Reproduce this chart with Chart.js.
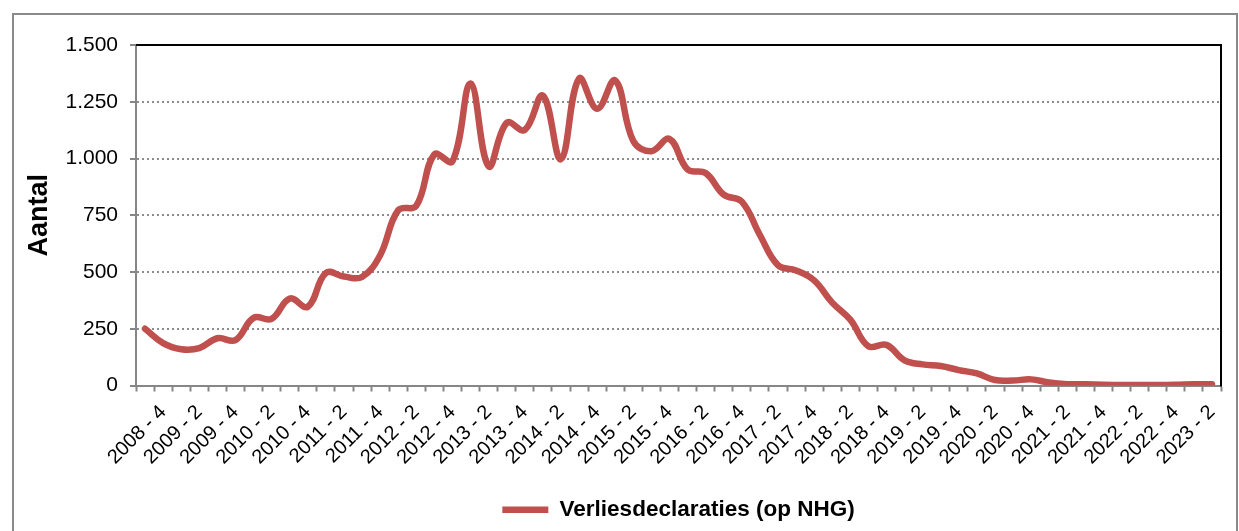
<!DOCTYPE html>
<html>
<head>
<meta charset="utf-8">
<script src="https://cdn.jsdelivr.net/npm/chart.js@4"></script>
<style>
    body { margin: 0; background: #fff; }
    #frame { position: absolute; left: 12px; top: 13px; width: 1222px; height: 540px; border: 2px solid #8a8a8a; }
    #chart { position: absolute; left: 0; top: 0; }
</style>
</head>
<body>
<div id="frame"></div>
<canvas id="chart" width="1239" height="531"></canvas>
<script>
// quarters, 2008-3 .. 2023-2
const quarters = [
    '2008 - 3', '2008 - 4',
    '2009 - 1', '2009 - 2', '2009 - 3', '2009 - 4',
    '2010 - 1', '2010 - 2', '2010 - 3', '2010 - 4',
    '2011 - 1', '2011 - 2', '2011 - 3', '2011 - 4',
    '2012 - 1', '2012 - 2', '2012 - 3', '2012 - 4',
    '2013 - 1', '2013 - 2', '2013 - 3', '2013 - 4',
    '2014 - 1', '2014 - 2', '2014 - 3', '2014 - 4',
    '2015 - 1', '2015 - 2', '2015 - 3', '2015 - 4',
    '2016 - 1', '2016 - 2', '2016 - 3', '2016 - 4',
    '2017 - 1', '2017 - 2', '2017 - 3', '2017 - 4',
    '2018 - 1', '2018 - 2', '2018 - 3', '2018 - 4',
    '2019 - 1', '2019 - 2', '2019 - 3', '2019 - 4',
    '2020 - 1', '2020 - 2', '2020 - 3', '2020 - 4',
    '2021 - 1', '2021 - 2', '2021 - 3', '2021 - 4',
    '2022 - 1', '2022 - 2', '2022 - 3', '2022 - 4',
    '2023 - 1', '2023 - 2'
];

const verliesdeclaraties = [
    250, 187,
    160, 165, 208, 200,
    298, 294, 383, 347,
    496, 480, 478, 574,
    772, 792, 1018, 988,
    1330, 966, 1157, 1126,
    1277, 997, 1352, 1219,
    1344, 1077, 1032, 1086,
    952, 936, 841, 810,
    663, 530, 507, 463,
    365, 290, 173, 179,
    111, 93, 86, 68,
    53, 24, 22, 27,
    13, 6, 5, 3,
    2, 2, 2, 3,
    5, 5
];

const yTicks = [0, 250, 500, 750, 1000, 1250, 1500];

const seriesName = 'Verliesdeclaraties (op NHG)';
const axisTitle = 'Aantal';

const FONT = "'Liberation Sans', Arial, sans-serif";
const GREY = '#868686';

function dutchNumber(v) {
    return String(v).replace(/\B(?=(\d{3})+(?!\d))/g, '.');
}

// black top and right edge of the plot area
const plotFrame = {
    id: 'plotFrame',
    afterDatasetsDraw(chart) {
        const {ctx, chartArea: a} = chart;
        ctx.save();
        ctx.strokeStyle = '#000';
        ctx.lineWidth = 2;
        ctx.beginPath();
        ctx.moveTo(a.left, a.top);
        ctx.lineTo(a.right, a.top);
        ctx.lineTo(a.right, a.bottom + 1);
        ctx.stroke();
        ctx.restore();
    }
};

const ctx = document.getElementById('chart').getContext('2d');
const chart = new Chart(ctx, {
    type: 'line',
    data: {
        labels: quarters,
        datasets: [{
            label: seriesName,
            data: verliesdeclaraties,
            borderColor: '#C0504D',
            backgroundColor: '#C0504D',
            borderWidth: 6.5,
            borderCapStyle: 'round',
            borderJoinStyle: 'round',
            pointRadius: 0,
            pointStyle: 'line',
            tension: 0.4,
            fill: false
        }]
    },
    options: {
        responsive: false,
        animation: false,
        devicePixelRatio: 1,
        layout: { padding: { top: 45, right: 18, left: 0, bottom: 0 } },
        plugins: {
            tooltip: { enabled: false },
            legend: {
                position: 'bottom',
                fullSize: false,
                labels: {
                    usePointStyle: true,
                    pointStyleWidth: 46,
                    padding: 12,
                    color: '#000',
                    font: { family: FONT, size: 22.5, weight: 'bold' }
                }
            }
        },
        scales: {
            x: {
                offset: true,
                afterFit: function (scale) { scale.height = 101; },
                grid: {
                    offset: true,
                    drawOnChartArea: false,
                    drawTicks: true,
                    tickLength: 6,
                    tickWidth: 2,
                    tickColor: GREY
                },
                border: { color: GREY, width: 2 },
                ticks: {
                    autoSkip: false,
                    maxRotation: 45,
                    minRotation: 45,
                    padding: 9,
                    color: '#000',
                    font: { family: FONT, size: 20 },
                    callback: function (value, index) {
                        return index % 2 === 1 ? this.getLabelForValue(value) : '';
                    }
                }
            },
            y: {
                min: 0,
                max: 1500,
                afterFit: function (scale) { scale.width = 136; },
                afterBuildTicks: function (scale) {
                    scale.ticks = yTicks.map(v => ({ value: v }));
                },
                grid: {
                    color: c => (c.tick && (c.tick.value === 0 || c.tick.value === 1500)) ? 'rgba(0,0,0,0)' : '#8c8c8c',
                    lineWidth: 2,
                    drawTicks: true,
                    tickLength: 6,
                    tickWidth: 2,
                    tickColor: GREY,
                    tickBorderDash: []
                },
                border: { color: GREY, width: 2, dash: [2, 3] },
                ticks: {
                    padding: 12,
                    color: '#000',
                    font: { family: FONT, size: 21 },
                    callback: v => dutchNumber(v)
                },
                title: {
                    display: true,
                    text: axisTitle,
                    color: '#000',
                    padding: { top: 23, bottom: 0 },
                    font: { family: FONT, size: 27, weight: 'bold' }
                }
            }
        }
    },
    plugins: [plotFrame]
});
</script>
</body>
</html>
